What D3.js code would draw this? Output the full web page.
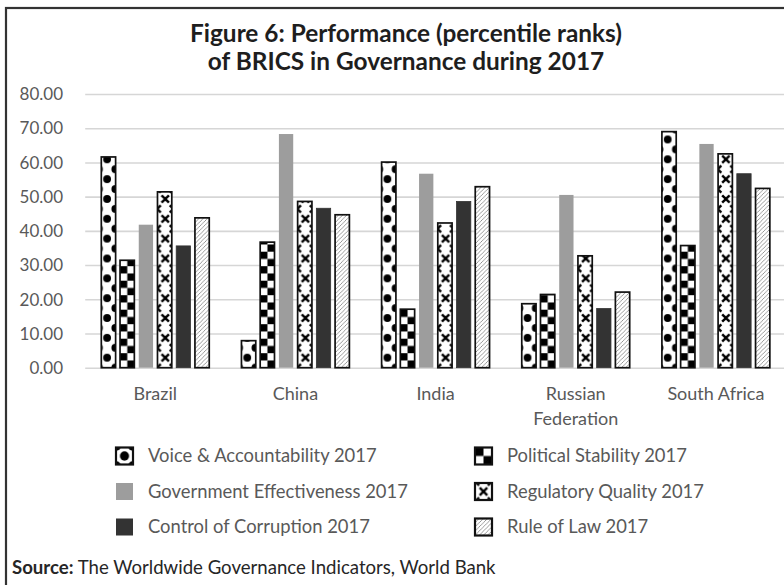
<!DOCTYPE html>
<html>
<head>
<meta charset="utf-8">
<script src="https://cdn.jsdelivr.net/npm/d3@7"></script>
<style>
  html, body { margin: 0; padding: 0; background: #fff; overflow: hidden; }
  svg { display: block; }
  text { font-family: Lato, "Open Sans", sans-serif; }
</style>
</head>
<body>
<svg id="chart" width="784" height="585"></svg>
<script>
// Percentile ranks (0-100) of the BRICS countries, Worldwide Governance Indicators 2017
const countries = ["Brazil", "China", "India", "Russian Federation", "South Africa"];
const countryLabelLines = [["Brazil"], ["China"], ["India"], ["Russian", "Federation"], ["South Africa"]];
const seriesNames = [
  "Voice & Accountability 2017",
  "Political Stability 2017",
  "Government Effectiveness 2017",
  "Regulatory Quality 2017",
  "Control of Corruption 2017",
  "Rule of Law 2017"
];
const voiceAccountability     = [61.6,  7.9, 60.1, 18.7, 69.0];
const politicalStability      = [31.4, 36.7, 17.1, 21.4, 35.7];
const governmentEffectiveness = [41.8, 68.3, 56.7, 50.5, 65.4];
const regulatoryQuality       = [51.4, 48.6, 42.3, 32.7, 62.5];
const controlOfCorruption     = [35.6, 46.6, 48.6, 17.3, 56.7];
const ruleOfLaw               = [43.8, 44.7, 52.9, 22.1, 52.4];
const yTickValues = [0, 10, 20, 30, 40, 50, 60, 70, 80];

const seriesValues = [voiceAccountability, politicalStability, governmentEffectiveness,
                      regulatoryQuality, controlOfCorruption, ruleOfLaw];
const seriesKeys = ["voice", "stability", "effectiveness", "regulatory", "corruption", "law"];

const svg = d3.select("#chart");
const defs = svg.append("defs");

// ---- layout ----
const plotLeft = 85.2, plotRight = 785.95, plotTop = 94, plotBottom = 367.7;

const x0 = d3.scaleBand().domain(countries).range([plotLeft, plotRight]).padding(0);
const x1 = d3.scaleBand().domain(seriesKeys).range([0, x0.bandwidth()])
  .paddingInner(0.236).paddingOuter(0.86);
const y = d3.scaleLinear().domain([0, 80]).range([plotBottom, plotTop]);

// ---- fill patterns ----
const LAT_W = 16.4, LAT_H = 19.84;

function latticePattern(id, ox, oy, drawMotif, size) {
  const p = defs.append("pattern").attr("id", id)
    .attr("patternUnits", "userSpaceOnUse")
    .attr("x", ox).attr("y", oy).attr("width", LAT_W).attr("height", LAT_H);
  p.append("rect").attr("width", LAT_W).attr("height", LAT_H).attr("fill", "#fff");
  const pts = [[0, 0], [LAT_W, 0], [0, LAT_H], [LAT_W, LAT_H], [LAT_W / 2, LAT_H / 2]];
  pts.forEach(([cx, cy]) => drawMotif(p, cx, cy, size));
}
const dotMotif = (p, cx, cy, r) => p.append("circle").attr("cx", cx).attr("cy", cy).attr("r", r).attr("fill", "#000");
const crossMotif = (p, cx, cy, a) => {
  p.append("path")
    .attr("d", `M${cx - a},${cy - a}L${cx + a},${cy + a}M${cx - a},${cy + a}L${cx + a},${cy - a}`)
    .attr("stroke", "#000").attr("stroke-width", 2.4).attr("fill", "none");
};

function checkerPattern(id, ox, oy, c) {
  const p = defs.append("pattern").attr("id", id)
    .attr("patternUnits", "userSpaceOnUse")
    .attr("x", ox).attr("y", oy).attr("width", 2 * c).attr("height", 2 * c);
  p.append("rect").attr("width", 2 * c).attr("height", 2 * c).attr("fill", "#fff");
  p.append("rect").attr("x", 0).attr("y", 0).attr("width", c).attr("height", c).attr("fill", "#000");
  p.append("rect").attr("x", c).attr("y", c).attr("width", c).attr("height", c).attr("fill", "#000");
}

function hatchPattern(id) {
  const s = 4.2;
  const p = defs.append("pattern").attr("id", id)
    .attr("patternUnits", "userSpaceOnUse").attr("width", s).attr("height", s);
  p.append("rect").attr("width", s).attr("height", s).attr("fill", "#fff");
  p.append("path")
    .attr("d", `M0,${s}L${s},0M${-s / 2},${s / 2}L${s / 2},${-s / 2}M${s / 2},${s * 1.5}L${s * 1.5},${s / 2}`)
    .attr("stroke", "#707070").attr("stroke-width", 0.7);
}

// bar patterns: x is bar-local, y is anchored to the page
const latticeAnchorY = y(0) - 10;
latticePattern("bar-voice", 5.8, latticeAnchorY, dotMotif, 3.9);
latticePattern("bar-regulatory", 7.8, latticeAnchorY, crossMotif, 3.7);
checkerPattern("bar-stability", 0, y(0), 7.25);
hatchPattern("hatch");

const markerSize = 17;
latticePattern("leg-voice", markerSize / 2, markerSize / 2, dotMotif, 4.6);
latticePattern("leg-regulatory", markerSize / 2, markerSize / 2, crossMotif, 3.8);
checkerPattern("leg-stability", 0, 0, markerSize / 2);

const barStyle = {
  voice:         { fill: "url(#bar-voice)",      stroke: "#111", sw: 1.7 },
  stability:     { fill: "url(#bar-stability)",  stroke: "#111", sw: 1.7 },
  effectiveness: { fill: "#9d9d9d",              stroke: "none", sw: 0 },
  regulatory:    { fill: "url(#bar-regulatory)", stroke: "#111", sw: 1.7 },
  corruption:    { fill: "#333333",              stroke: "#333333", sw: 0.8 },
  law:           { fill: "url(#hatch)",          stroke: "#111", sw: 1.7 }
};
const legendStyle = {
  voice:         { fill: "url(#leg-voice)",      stroke: "#111", sw: 2.2 },
  stability:     { fill: "url(#leg-stability)",  stroke: "#111", sw: 2.2 },
  effectiveness: { fill: "#9d9d9d",              stroke: "none", sw: 0 },
  regulatory:    { fill: "url(#leg-regulatory)", stroke: "#111", sw: 2.2 },
  corruption:    { fill: "#333333",              stroke: "none", sw: 0 },
  law:           { fill: "url(#hatch)",          stroke: "#111", sw: 2.2 }
};

// ---- frame ----
svg.append("rect").attr("x", 6).attr("y", 8).attr("width", 820).attr("height", 620)
  .attr("fill", "none").attr("stroke", "#333").attr("stroke-width", 2.2);

// ---- title ----
const title = svg.append("text").attr("text-anchor", "middle")
  .attr("font-weight", 700).attr("font-size", 24.4).attr("fill", "#1e1e1e");
title.append("tspan").attr("x", 406).attr("y", 42).text("Figure 6: Performance (percentile ranks)");
title.append("tspan").attr("x", 406).attr("y", 70).text("of BRICS in Governance during 2017");

// ---- gridlines + y axis ----
const yAxis = d3.axisLeft(y).tickValues(yTickValues).tickFormat(d3.format(".2f"))
  .tickSize(-(plotRight - plotLeft)).tickPadding(20);
const yAxisG = svg.append("g").attr("transform", `translate(${plotLeft},0)`).call(yAxis);
yAxisG.select(".domain").remove();
yAxisG.selectAll(".tick line").attr("stroke", "#d6d6d6").attr("stroke-width", 1.6);
yAxisG.selectAll(".tick text").attr("fill", "#595959").attr("font-size", 17)
  .attr("font-family", "Lato, sans-serif").attr("x", 63 - plotLeft).attr("dy", "0.34em");

// ---- bars ----
const groups = svg.append("g").selectAll("g.country").data(countries).join("g")
  .attr("class", "country").attr("transform", d => `translate(${x0(d)},0)`);

groups.each(function (country, ci) {
  const g = d3.select(this);
  g.selectAll("g.bar").data(seriesKeys).join("g")
    .attr("class", "bar")
    .attr("transform", k => `translate(${x1(k)},0)`)
    .append("rect")
    .attr("x", 0)
    .attr("y", (k, si) => y(seriesValues[si][ci]))
    .attr("width", x1.bandwidth())
    .attr("height", (k, si) => y(0) - y(seriesValues[si][ci]))
    .attr("fill", k => barStyle[k].fill)
    .attr("stroke", k => barStyle[k].stroke)
    .attr("stroke-width", k => barStyle[k].sw);
});

// ---- category labels ----
const catLabels = svg.append("g").selectAll("text").data(countries).join("text")
  .attr("text-anchor", "middle").attr("font-size", 18).attr("fill", "#595959");
catLabels.each(function (d, i) {
  const t = d3.select(this);
  countryLabelLines[i].forEach((line, li) => {
    t.append("tspan").attr("x", x0(d) + x0.bandwidth() / 2).attr("y", 400 + li * 25).text(line);
  });
});

// ---- legend ----
const legendCols = [116, 475], legendRow0 = 456, legendRowStep = 35.5;
const legend = svg.append("g").selectAll("g.item").data(seriesKeys).join("g")
  .attr("class", "item")
  .attr("transform", (k, i) => `translate(${legendCols[i % 2]},${legendRow0 + Math.floor(i / 2) * legendRowStep - markerSize / 2})`);
legend.append("rect").attr("width", markerSize).attr("height", markerSize)
  .attr("fill", k => legendStyle[k].fill)
  .attr("stroke", k => legendStyle[k].stroke)
  .attr("stroke-width", k => legendStyle[k].sw);
legend.append("text").attr("x", 32).attr("y", markerSize / 2).attr("dy", "0.35em")
  .attr("font-size", 18.4).attr("fill", "#595959")
  .text((k, i) => seriesNames[i]);

// ---- source ----
const source = svg.append("text").attr("x", 12).attr("y", 574).attr("font-size", 18.6).attr("fill", "#262626");
source.append("tspan").attr("font-weight", 700).text("Source:");
source.append("tspan").text(" The Worldwide Governance Indicators, World Bank");
</script>
</body>
</html>
